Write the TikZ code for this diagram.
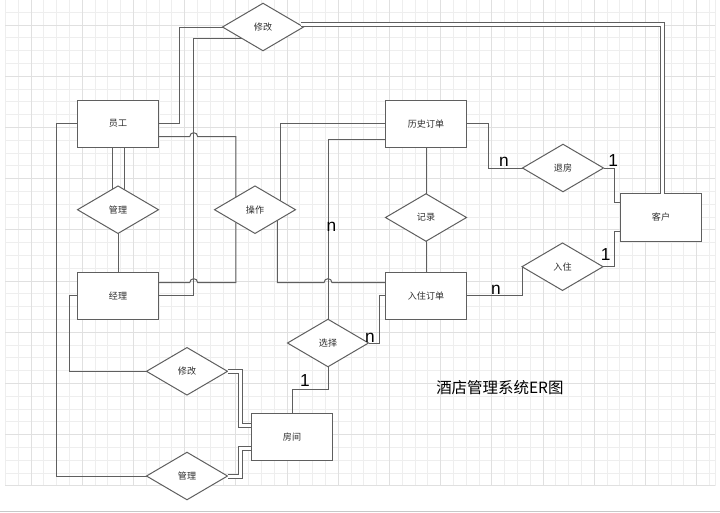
\documentclass[tikz,border=0pt]{standalone}
\usepackage{fontspec}
\setmainfont{Liberation Sans}
\newfontfamily\cjk{Noto Sans CJK SC}
\usetikzlibrary{shapes.geometric,calc}
\definecolor{lc}{RGB}{95,95,95}
\definecolor{gminor}{RGB}{238,238,238}
\definecolor{gmajor}{RGB}{224,224,224}
\definecolor{tc}{RGB}{45,45,45}
\definecolor{baseline}{RGB}{200,200,200}
\begin{document}
\begin{tikzpicture}[x=0.75pt,y=-0.75pt,
  ent/.style={draw=lc, fill=white, line width=0.75pt, minimum width=61.25pt, minimum height=35.5pt, inner sep=0pt, outer sep=0pt, font=\cjk\fontsize{6.8pt}{8pt}\selectfont, text=tc},
  rel/.style={draw=lc, fill=white, line width=0.75pt, diamond, minimum width=60.75pt, minimum height=35.6pt, inner sep=0pt, outer sep=0pt, font=\cjk\fontsize{6.8pt}{8pt}\selectfont, text=tc},
  conn/.style={draw=lc, line width=0.75pt},
  dbl/.style={draw=lc, line width=0.75pt, double=white, double distance=2.25pt},
  card/.style={font=\fontsize{13pt}{13pt}\selectfont, anchor=base, inner sep=0pt, text=black},
  gmin/.style={draw=gminor, line width=0.75pt},
  gmaj/.style={draw=gmajor, line width=0.75pt}]
\useasboundingbox (0,0) rectangle (720,512);
% grid
\foreach \i in {0,...,55} \draw[gmin] ({5.4+12.8*\i},0) -- ({5.4+12.8*\i},485.8);
\draw[gmin] (715,0) -- (715,485.8);
\foreach \i in {1,...,38} \draw[gmin] (5.4,{-0.6+12.8*\i}) -- (715,{-0.6+12.8*\i});
\foreach \i in {0,...,13} \draw[gmaj] ({31+51.2*\i},0) -- ({31+51.2*\i},485.8);
\foreach \i in {0,...,9} \draw[gmaj] (5.4,{25+51.2*\i}) -- (715,{25+51.2*\i});
\draw[draw=baseline, line width=0.75pt] (0,511.3) -- (720,511.3);

% entities
\node[ent] (yg) at (118,123.7) {员工};
\node[ent] (jl) at (118,295.7) {经理};
\node[ent] (ls) at (426,123.7) {历史订单};
\node[ent] (rz) at (426,295.7) {入住订单};
\node[ent] (kh) at (661,217.5) {客户};
\node[ent] (fj) at (292,436.7) {房间};
% relations
\node[rel] (xg1) at (263,27) {修改};
\node[rel] (gl1) at (118,209.7) {管理};
\node[rel] (cz) at (255,209.7) {操作};
\node[rel] (tf) at (563,168) {退房};
\node[rel] (jlu) at (426,217.5) {记录};
\node[rel] (ruz) at (562.5,266.7) {入住};
\node[rel] (xz) at (328,343) {选择};
\node[rel] (xg2) at (187,371.3) {修改};
\node[rel] (gl2) at (187,476) {管理};

% helper points on diamond edges
\coordinate (pxg) at ($(xg1.south)!0.52!(xg1.west)$);
\coordinate (pcz1) at ($(cz.north)!0.47!(cz.west)$);
\coordinate (pcz2) at ($(cz.south)!0.47!(cz.west)$);
\coordinate (pcz3) at ($(cz.north)!0.62!(cz.east)$);
\coordinate (pcz4) at ($(cz.south)!0.55!(cz.east)$);
\coordinate (g1a) at ($(gl1.north)!0.13!(gl1.west)$);
\coordinate (g1b) at ($(gl1.north)!0.15!(gl1.east)$);
\coordinate (vx) at (193.7,0);

% connectors
\draw[conn] (yg.east) -- (179.3,123.7) |- (xg1.west);
\draw[conn] (jl.east) -| (vx |- pxg) -- (pxg);
\draw[conn] (yg.east |- 0,136.7) -- (189.7,136.7) .. controls (189.7,131.4) and (197.7,131.4) .. (197.7,136.7) -| (pcz1);
\draw[conn] (jl.east |- 0,282.7) -- (189.7,282.7) .. controls (189.7,277.4) and (197.7,277.4) .. (197.7,282.7) -| (pcz2);
\draw[conn] (yg.west) -- (56,123.7) |- (gl2.west);
\draw[conn] (jl.west) -- (69,295.7) |- (xg2.west);
\draw[conn] (yg.south -| g1a) -- (g1a);
\draw[conn] (yg.south -| g1b) -- (g1b);
\draw[conn] (gl1.south) -- (jl.north);
\draw[dbl] ($(xg1.east)+(-3,-2.3)$) -| (kh.north -| 662.5,0);
\draw[conn] (ls.west) -| (pcz3);
\draw[conn] (ls.west |- 0,139) -| (xz.north);
\draw[conn] (pcz4) -- (pcz4 |- 0,282.7) -- (324,282.7) .. controls (324,277.4) and (332,277.4) .. (332,282.7) -- (rz.west |- 0,282.7);
\draw[conn] (xz.east) -- (379,343) |- (rz.west);
\draw[conn] (xz.south) -- (328,389) -| (fj.north);
\draw[dbl] (xg2.east) -- (240,371.3) |- (fj.west |- 0,425.3);
\draw[dbl] (gl2.east) -- (240,476) |- (fj.west |- 0,448);
\draw[conn] (ls.south) -- (jlu.north);
\draw[conn] (jlu.south) -- (rz.north);
\draw[conn] (ls.east) -- (488.3,123.7) |- (tf.west);
\draw[conn] (tf.east) -- (614,168) |- (kh.west |- 0,202.3);
\draw[conn] (rz.east) -| (ruz.west);
\draw[conn] (ruz.east) -- (614,266.7) |- (kh.west |- 0,231);

% cardinalities
\node[card] (c1) at (504,166.7) {n};
\node[card] (c2) at (613.3,166.7) {1};
\node[card] (c3) at (331.5,231.7) {n};
\node[card] (c4) at (370,342.7) {n};
\node[card] (c5) at (305,386) {1};
\node[card] (c6) at (496,294) {n};
\node[card] (c7) at (605.7,260) {1};

% title
\node[font=\cjk\fontsize{11.6pt}{14pt}\selectfont, anchor=west, inner sep=0pt, text=black] (title) at (436,387.3) {酒店管理系统ER图};
\end{tikzpicture}
\end{document}
